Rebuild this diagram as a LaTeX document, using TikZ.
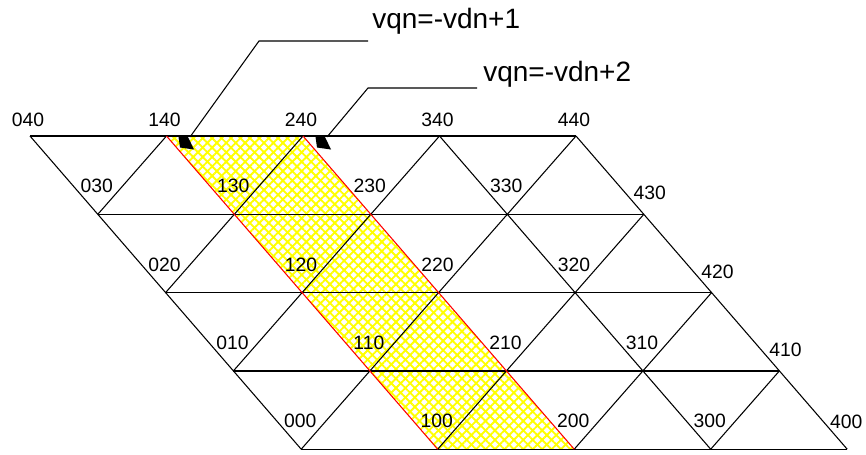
\documentclass[tikz,border=0pt]{standalone}
\usepackage{fontspec}
\setmainfont{Liberation Sans}
\usetikzlibrary{patterns.meta}
\begin{document}
\begin{tikzpicture}[x=0.75pt,y=-0.75pt,
  grid/.style={line width=0.8pt, black},
  hgrid/.style={line width=1pt, black},
  bandedge/.style={line width=0.8pt, red},
  vlabel/.style={inner sep=0pt, font=\fontsize{14.5}{14.5}\selectfont},
  note/.style={inner sep=0pt, anchor=base west, font=\fontsize{21}{21}\selectfont},
  leader/.style={line width=0.8pt, black},
  head/.style={fill=black}]
\useasboundingbox (0,0) rectangle (866,454);
% lattice vertices
\foreach \a in {0,...,4}{\foreach \r in {0,...,4}{
  \coordinate (v\a\r) at ({30+136.5*\a+67.8*\r},{136+78.3*\r});}}
% hatched band
\path[pattern={Lines[angle=45,distance=5pt,line width=1.4pt]},pattern color=yellow]
  (v10) -- (v20) -- (v24) -- (v14) -- cycle;
\path[pattern={Lines[angle=-45,distance=5pt,line width=1.4pt]},pattern color=yellow]
  (v10) -- (v20) -- (v24) -- (v14) -- cycle;
% grid lines
\foreach \r in {0,...,4}{\draw[hgrid] (v0\r) -- (v4\r);}
\foreach \a in {0,3,4}{\draw[grid] (v\a0) -- (v\a4);}
\foreach \p/\q in {10/01,20/02,30/03,40/04,41/14,42/24,43/34}{\draw[grid] (v\p) -- (v\q);}
% band edges
\draw[bandedge] (v10) -- (v14);
\draw[bandedge] (v20) -- (v24);
% labels
\foreach \a in {0,...,4}{\node[vlabel] (l\a0) at ([shift={(-2,-16)}]v\a0) {\a40};}
\foreach \r in {1,...,4}{
  \pgfmathtruncatemacro{\s}{4-\r}
  \foreach \a in {0,...,3}{\node[vlabel] (l\a\r) at ([shift={(-1,-28)}]v\a\r) {\a\s0};}}
\foreach \r in {1,2,3}{
  \pgfmathtruncatemacro{\s}{4-\r}
  \node[vlabel] (l4\r) at ([shift={(6,-21)}]v4\r) {4\s0};}
\node[vlabel] (l44) at ([shift={(-1,-27)}]v44) {400};
% annotations
\node[note] (n1) at (372,28) {vqn=-vdn+1};
\node[note] (n2) at (483,81) {vqn=-vdn+2};
\coordinate (e1) at (368,41);
\coordinate (b1) at (259,41);
\coordinate (t1) at (190,137);
\coordinate (e2) at (477,88);
\coordinate (b2) at (368,88);
\coordinate (t2) at (327,137);
\draw[leader] (e1) -- (b1) -- (t1);
\draw[leader] (e2) -- (b2) -- (t2);
\fill[head] (178.5,137) -- (188,137) -- (194,149.5) -- (180,147.5) -- cycle;
\fill[head] (315.5,137) -- (325,137) -- (331,149.5) -- (317,147.5) -- cycle;
\end{tikzpicture}
\end{document}
